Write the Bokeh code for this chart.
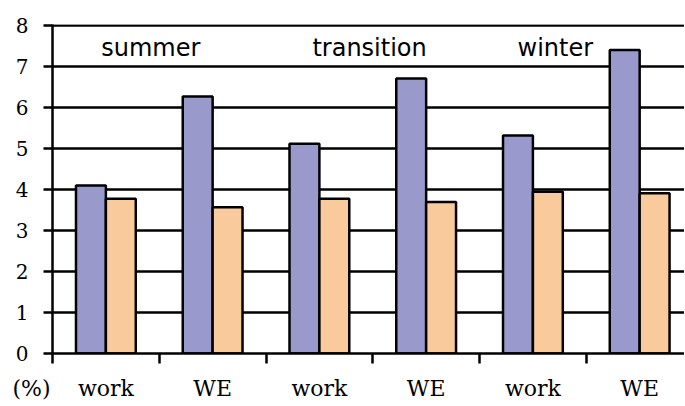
from bokeh.plotting import figure
from bokeh.models import FixedTicker
from bokeh.embed import file_html
from bokeh.resources import INLINE
from bokeh.core.properties import value

# ---- data ----
categories = ["work", "WE", "work", "WE", "work", "WE"]
seasons = ["summer", "transition", "winter"]
series_blue = [4.10, 6.27, 5.12, 6.71, 5.32, 7.41]
series_orange = [3.78, 3.57, 3.78, 3.70, 3.95, 3.91]
y_ticks = [0, 1, 2, 3, 4, 5, 6, 7, 8]
unit_label = "(%)"

BLUE = "#9999CC"
ORANGE = "#F9CB9C"

n = len(categories)
centers = [i + 0.5 for i in range(n)]
bw = 0.28
x_blue = [c - bw / 2 for c in centers]
x_orange = [c + bw / 2 for c in centers]

p = figure(
    frame_width=632, frame_height=329,
    x_range=(0, 5.92), y_range=(0, 8.03),
    min_border_left=52, min_border_top=24, min_border_right=0, min_border_bottom=50,
    output_backend="svg", toolbar_location=None,
)
p.outline_line_color = None
p.background_fill_color = "white"
p.border_fill_color = "white"

# grid
p.xgrid.visible = False
p.ygrid.ticker = FixedTicker(ticks=y_ticks)
p.ygrid.grid_line_color = "black"
p.ygrid.grid_line_width = 2.5

# bars
p.vbar(x=x_blue, top=series_blue, width=bw, bottom=0,
       fill_color=BLUE, line_color="black", line_width=2.5)
p.vbar(x=x_orange, top=series_orange, width=bw, bottom=0,
       fill_color=ORANGE, line_color="black", line_width=2.5)

# season labels
p.text(x=[0.92, 2.97, 4.71], y=[7.45, 7.45, 7.45], text=seasons,
       text_font=value("DejaVu Sans"), text_font_size="24px",
       text_align="center", text_baseline="middle", text_color="black")

# y axis
p.yaxis.ticker = FixedTicker(ticks=y_ticks)
p.yaxis.axis_line_color = "black"
p.yaxis.axis_line_width = 2.5
p.yaxis.major_tick_line_color = "black"
p.yaxis.major_tick_line_width = 2.5
p.yaxis.major_tick_in = 0
p.yaxis.major_tick_out = 9
p.yaxis.minor_tick_line_color = None
p.yaxis.major_label_standoff = 15
p.yaxis.major_label_text_font = "DejaVu Serif"
p.yaxis.major_label_text_font_size = "20px"
p.yaxis.major_label_text_color = "black"

# x axis (unit label sits at the origin tick, padded with no-break spaces)
xa = p.xaxis[0]
xa.ticker = FixedTicker(ticks=[0] + centers, minor_ticks=list(range(n + 1)))
overrides = {c: lab for c, lab in zip(centers, categories)}
overrides[0] = unit_label + "\u00a0" * 6
xa.major_label_overrides = overrides
xa.axis_line_color = "black"
xa.axis_line_width = 2.5
xa.major_tick_line_color = None
xa.major_tick_in = 0
xa.major_tick_out = 0
xa.minor_tick_line_color = "black"
xa.minor_tick_line_width = 2.5
xa.minor_tick_in = 0
xa.minor_tick_out = 10
xa.major_label_standoff = 12
xa.major_label_text_font = "DejaVu Serif"
xa.major_label_text_font_size = "22px"
xa.major_label_text_color = "black"

open("out.html", "w").write(file_html(p, INLINE))
